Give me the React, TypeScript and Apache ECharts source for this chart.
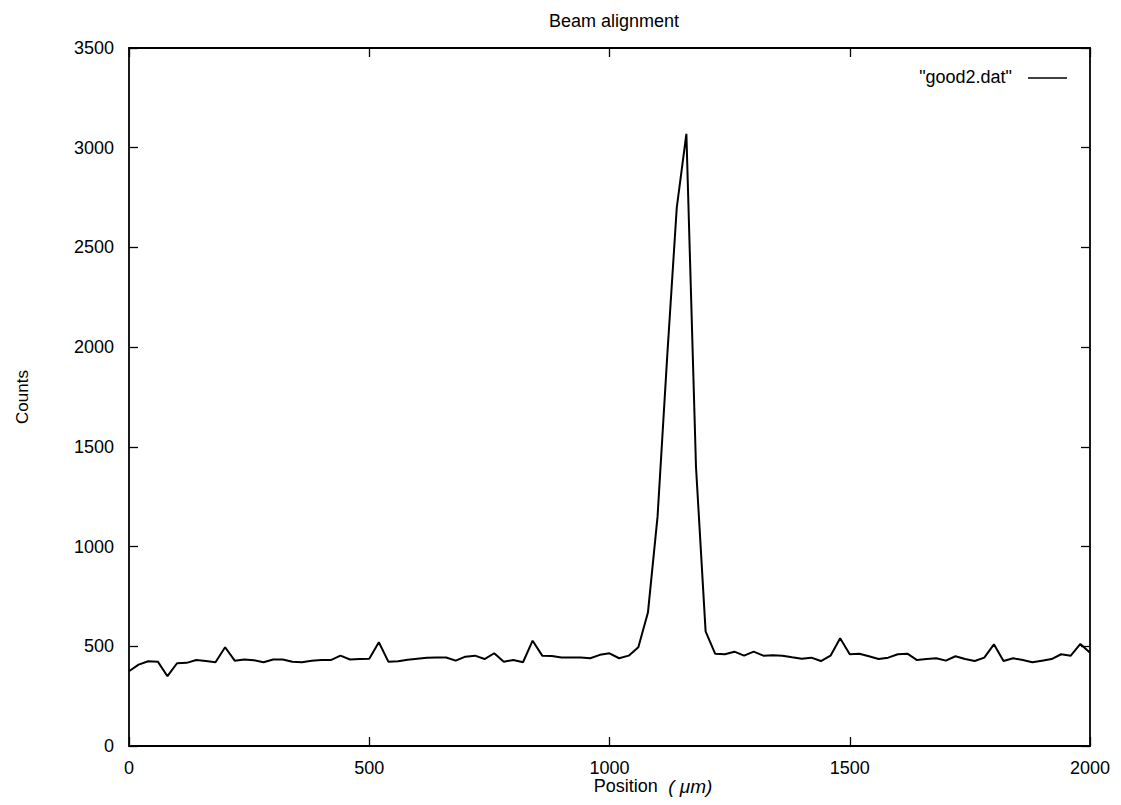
import React, { useEffect, useRef } from "react";
import * as echarts from "echarts";

const positions = [
  0, 20, 40, 60, 80, 100, 120, 140, 160, 180,
  200, 220, 240, 260, 280, 300, 320, 340, 360, 380,
  400, 420, 440, 460, 480, 500, 520, 540, 560, 580,
  600, 620, 640, 660, 680, 700, 720, 740, 760, 780,
  800, 820, 840, 860, 880, 900, 920, 940, 960, 980,
  1000, 1020, 1040, 1060, 1080, 1100, 1120, 1140, 1160, 1180,
  1200, 1220, 1240, 1260, 1280, 1300, 1320, 1340, 1360, 1380,
  1400, 1420, 1440, 1460, 1480, 1500, 1520, 1540, 1560, 1580,
  1600, 1620, 1640, 1660, 1680, 1700, 1720, 1740, 1760, 1780,
  1800, 1820, 1840, 1860, 1880, 1900, 1920, 1940, 1960, 1980,
  2000,
];

const counts = [
  375, 408, 425, 423, 350, 415, 417, 431, 426, 420,
  495, 428, 434, 430, 420, 434, 434, 422, 420, 428,
  431, 431, 453, 434, 436, 437, 520, 422, 425, 432,
  438, 443, 444, 444, 428, 448, 453, 436, 465, 423,
  431, 420, 528, 453, 451, 444, 444, 444, 440, 457,
  465, 440, 453, 495, 669, 1150, 1950, 2700, 3070, 1400,
  575, 462, 460, 473, 453, 473, 453, 455, 453, 445,
  438, 443, 426, 453, 540, 460, 463, 450, 436, 443,
  460, 463, 431, 436, 440, 428, 450, 436, 426, 443,
  510, 426, 440, 431, 420, 428, 436, 460, 453, 512,
  468,
];

const xTicks = { min: 0, max: 2000, interval: 500 };
const yTicks = { min: 0, max: 3500, interval: 500 };

const titleText = "Beam alignment";
const seriesName = '"good2.dat"';
const yAxisTitle = "Counts";

const FONT = "'Liberation Sans', Arial, Helvetica, sans-serif";

export default function App() {
  const ref = useRef<HTMLDivElement>(null);

  useEffect(() => {
    if (!ref.current) return;
    const chart = echarts.init(ref.current, undefined, { renderer: "svg" });
    const data = positions.map((p, i) => [p, counts[i]]);

    const axisCommon = {
      axisLine: { show: true, onZero: false, lineStyle: { color: "#000", width: 1.8 } },
      axisTick: { show: true, inside: true, length: 9, lineStyle: { color: "#000", width: 1.3 } },
      splitLine: { show: false },
    };
    const fmt = (v: number) => String(v);

    chart.setOption({
      animation: false,
      backgroundColor: "#fff",
      title: {
        text: titleText,
        left: 609,
        top: 7,
        textAlign: "center",
        textStyle: { fontFamily: FONT, fontSize: 18, fontWeight: "normal", color: "#000" },
      },
      grid: { left: 129, right: 31, top: 48, bottom: 59, show: false },
      xAxis: [
        {
          type: "value",
          ...xTicks,
          ...axisCommon,
          position: "bottom",
          axisLabel: { color: "#000", fontFamily: FONT, fontSize: 18, margin: 13, formatter: fmt },
        },
        {
          type: "value",
          ...xTicks,
          ...axisCommon,
          position: "top",
          axisLabel: { show: false },
        },
      ],
      yAxis: [
        {
          type: "value",
          ...yTicks,
          ...axisCommon,
          position: "left",
          axisLabel: { color: "#000", fontFamily: FONT, fontSize: 18, margin: 15, formatter: fmt },
        },
        {
          type: "value",
          ...yTicks,
          ...axisCommon,
          position: "right",
          axisLabel: { show: false },
        },
      ],
      series: [
        {
          name: seriesName,
          type: "line",
          data,
          showSymbol: false,
          symbol: "none",
          lineStyle: { color: "#000", width: 2 },
          xAxisIndex: 0,
          yAxisIndex: 0,
        },
      ],
      graphic: [
        {
          type: "text",
          x: 1012,
          y: 77,
          style: {
            text: seriesName,
            fill: "#000",
            font: `18px ${FONT}`,
            textAlign: "right",
            textVerticalAlign: "middle",
          },
        },
        {
          type: "line",
          shape: { x1: 1028, y1: 78, x2: 1067, y2: 78 },
          style: { stroke: "#000", lineWidth: 1.5 },
        },
        {
          type: "text",
          x: 653,
          y: 786,
          style: {
            text: "{n|Position}{s|  ( μm)}",
            textAlign: "center",
            textVerticalAlign: "middle",
            rich: {
              n: { fontFamily: FONT, fontSize: 18, fill: "#000" },
              s: { fontFamily: FONT, fontSize: 19, fontStyle: "italic", fill: "#000" },
            },
          },
        },
        {
          type: "text",
          x: 22,
          y: 397,
          rotation: Math.PI / 2,
          style: {
            text: yAxisTitle,
            fill: "#000",
            font: `17px ${FONT}`,
            textAlign: "center",
            textVerticalAlign: "middle",
          },
        },
      ],
    });

    return () => chart.dispose();
  }, []);

  return (
    <div
      ref={ref}
      style={{ position: "fixed", left: 0, top: 0, width: 1121, height: 805 }}
    />
  );
}
